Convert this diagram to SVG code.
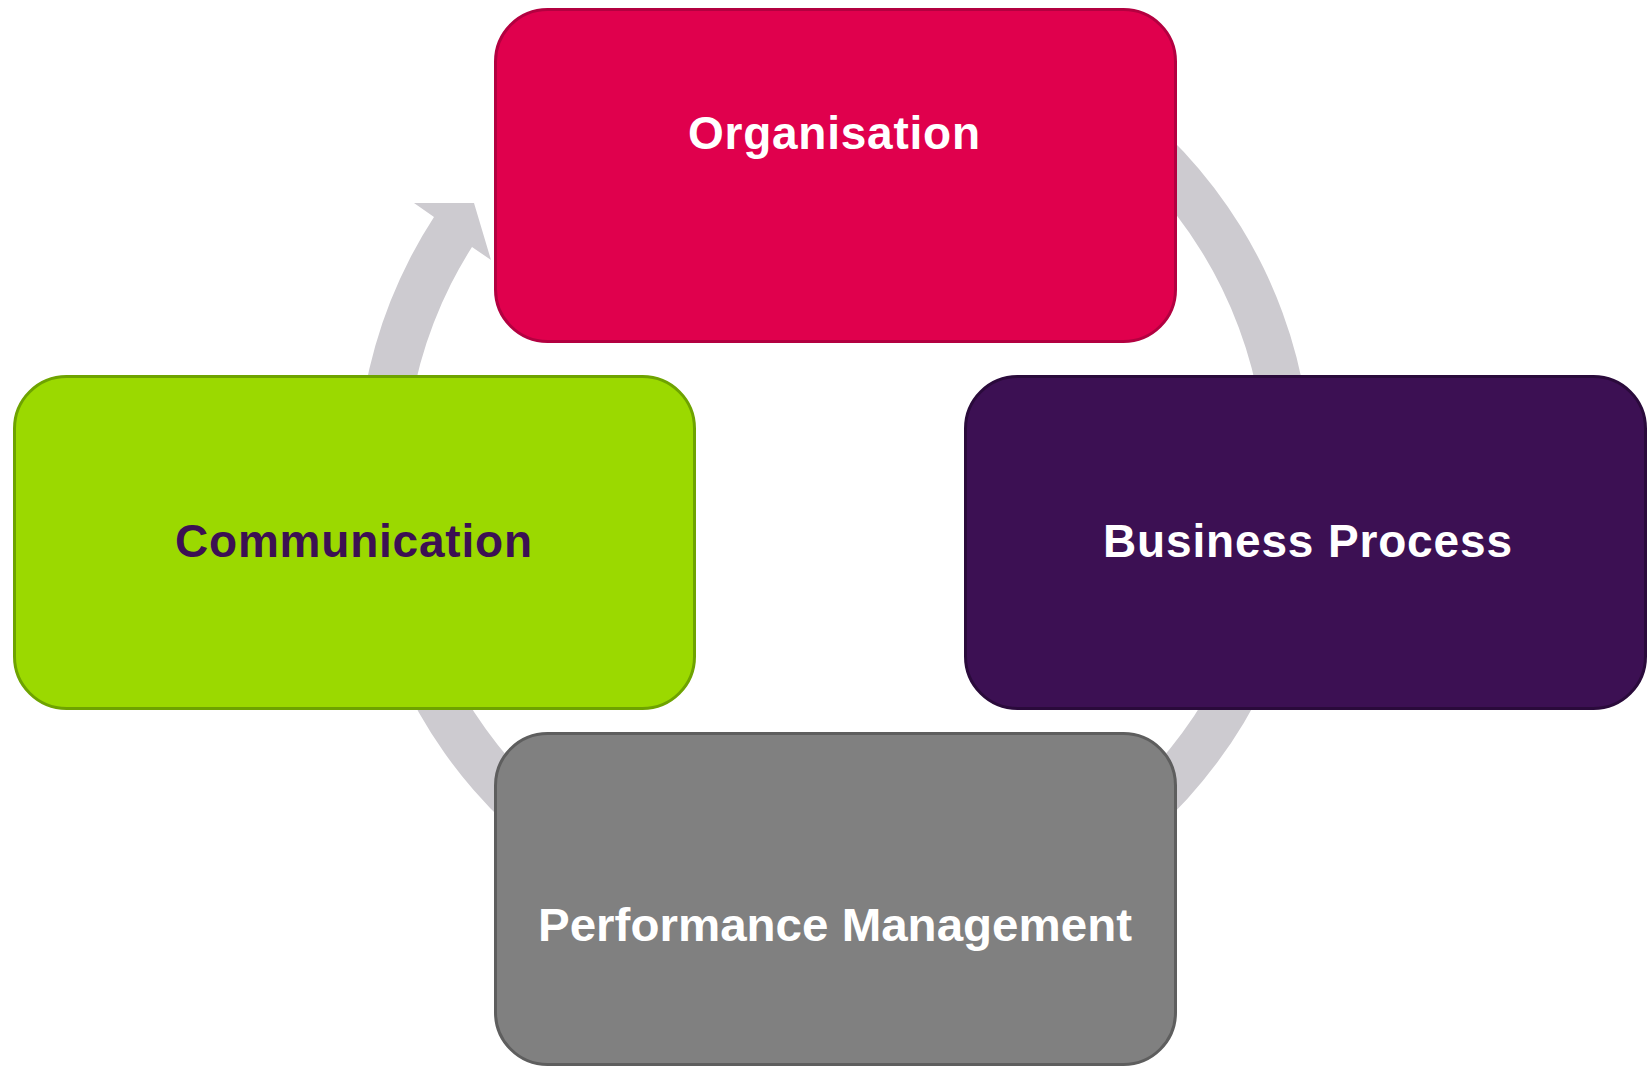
<svg xmlns="http://www.w3.org/2000/svg" width="1651" height="1068" viewBox="0 0 1651 1068">
  <style>
    .box { stroke-width: 3; }
    .label { font-family: "Liberation Sans", Arial, sans-serif; font-weight: bold; font-size: 46px; text-anchor: middle; }
  </style>
  <rect width="1651" height="1068" fill="#ffffff"/>

  <!-- circular cycle arrow, running clockwise behind the four boxes -->
  <g id="connectors">
    <path d="M 1072.75 63.5 A 477.5 477.5 0 1 1 434 217 L 414 203 L 474 203 L 491 260 L 472 247 A 430.5 430.5 0 1 0 1049.25 104.2 Z" fill="#CDCBD0"/>
  </g>

  <g id="node-organisation">
    <rect class="box" x="495.5" y="9.5" width="680" height="332" rx="52" fill="#E0004D" stroke="#B30040"/>
    <text class="label" x="834" y="149" fill="#ffffff" textLength="292" lengthAdjust="spacing">Organisation</text>
  </g>

  <g id="node-communication">
    <rect class="box" x="14.5" y="376.5" width="680" height="332" rx="52" fill="#9BD900" stroke="#6EA300"/>
    <text class="label" x="353.5" y="557" fill="#3C1053" textLength="357" lengthAdjust="spacing">Communication</text>
  </g>

  <g id="node-business-process">
    <rect class="box" x="965.5" y="376.5" width="680" height="332" rx="52" fill="#3C1053" stroke="#2A0A3B"/>
    <text class="label" x="1307.5" y="557" fill="#ffffff" textLength="409" lengthAdjust="spacing">Business Process</text>
  </g>

  <g id="node-performance-management">
    <rect class="box" x="495.5" y="733.5" width="680" height="331" rx="52" fill="#808080" stroke="#5E5E5E"/>
    <text class="label" x="835" y="941" fill="#ffffff" textLength="594" lengthAdjust="spacingAndGlyphs">Performance Management</text>
  </g>
</svg>
